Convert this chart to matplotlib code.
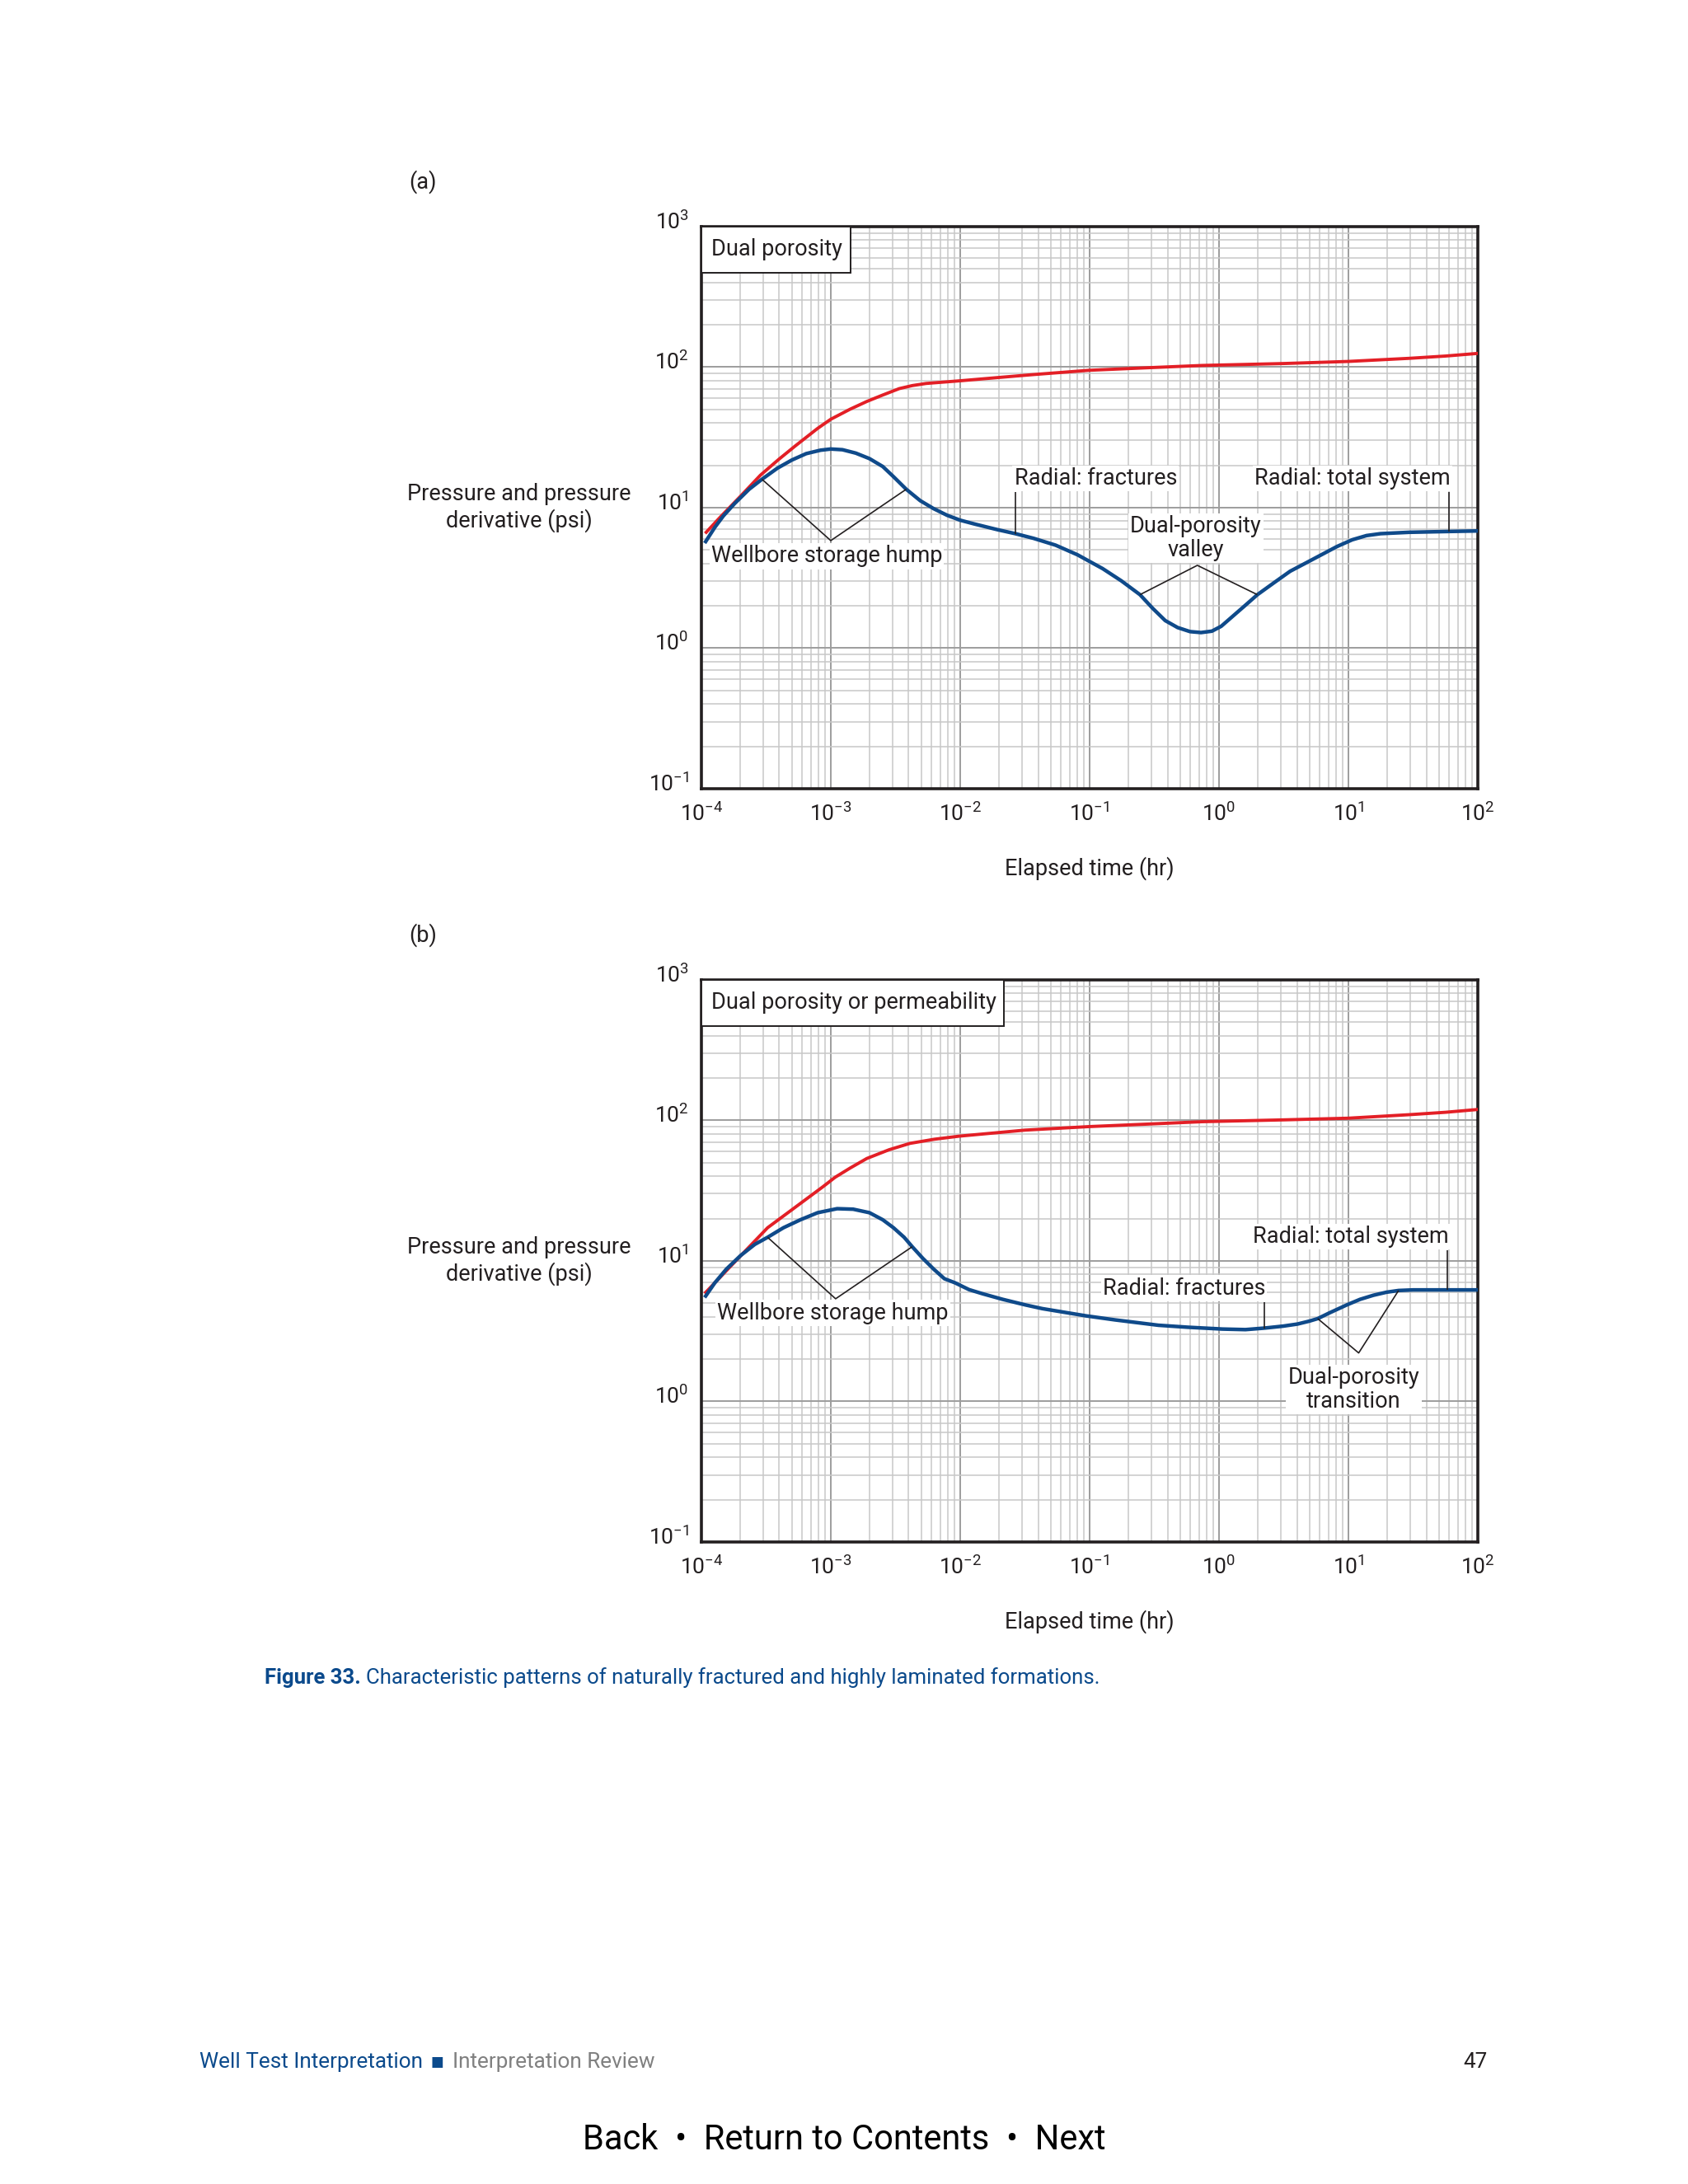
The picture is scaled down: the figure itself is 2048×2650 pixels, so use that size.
import numpy as np
import matplotlib
matplotlib.use("Agg")
import matplotlib.pyplot as plt
from matplotlib.ticker import LogLocator, NullFormatter
from matplotlib.patches import Rectangle
from matplotlib.transforms import ScaledTranslation

FONT = "Roboto"
plt.rcParams["font.family"] = [FONT, "DejaVu Sans"]
plt.rcParams["mathtext.fontset"] = "custom"
plt.rcParams["mathtext.rm"] = FONT
plt.rcParams["mathtext.it"] = FONT + ":italic"
plt.rcParams["mathtext.bf"] = FONT + ":bold"
plt.rcParams["mathtext.default"] = "regular"

# ---- data (elapsed time in hr, pressure in psi) ----
a_press_t = [1.09e-4, 1.41e-4, 2.0e-4, 2.86e-4, 3.98e-4, 5.33e-4, 7.92e-4, 1.0e-3,
             1.41e-3, 1.90e-3, 2.51e-3, 3.38e-3, 4.27e-3, 5.46e-3, 7.94e-3, 1.03e-2,
             2.0e-2, 3.64e-2, 9.95e-2, 0.316, 0.74, 3.16, 10, 29.9, 56.2, 100]
a_press_p = [6.67, 8.61, 12.0, 17.0, 22.1, 27.5, 36.6, 42.5,
             50.1, 56.9, 63.1, 70.2, 73.8, 76.4, 78.5, 80.0,
             84.3, 88.3, 94.8, 99.3, 102.6, 105.9, 109.6, 115.4, 119.7, 125]

a_deriv_t = [1.08e-4, 1.27e-4, 1.48e-4, 1.81e-4, 2.34e-4, 2.94e-4, 3.88e-4, 5.01e-4,
             6.46e-4, 8.34e-4, 1.0e-3, 1.23e-3, 1.56e-3, 1.99e-3, 2.52e-3, 3.05e-3,
             3.83e-3, 4.91e-3, 6.24e-3, 7.93e-3, 1.0e-2, 1.29e-2, 1.93e-2, 2.67e-2,
             3.69e-2, 5.46e-2, 8.07e-2, 0.126, 0.176, 0.245, 0.307, 0.384,
             0.479, 0.598, 0.726, 0.881, 1.04, 1.30, 1.63, 1.98,
             2.69, 3.54, 4.68, 6.17, 8.15, 10.7, 13.8, 17.7, 29.5, 60.0, 100]
a_deriv_p = [5.73, 7.23, 8.73, 10.7, 13.5, 15.9, 19.1, 21.8,
             24.2, 25.6, 26.1, 25.8, 24.4, 22.3, 19.6, 16.6,
             13.5, 11.2, 9.82, 8.81, 8.13, 7.64, 6.97, 6.52,
             6.04, 5.40, 4.61, 3.68, 3.01, 2.40, 1.92, 1.57,
             1.40, 1.31, 1.29, 1.32, 1.43, 1.71, 2.05, 2.40,
             2.94, 3.52, 4.03, 4.61, 5.28, 5.90, 6.32, 6.52, 6.67, 6.76, 6.82]

b_press_t = [1.08e-4, 1.78e-4, 3.25e-4, 5.01e-4, 8.71e-4, 1.08e-3, 1.41e-3, 1.90e-3,
             2.82e-3, 4.09e-3, 6.31e-3, 9.84e-3, 3.16e-2, 9.95e-2, 0.316, 0.74,
             3.16, 10, 29.9, 56.2, 100]
b_press_p = [5.96, 9.66, 17.2, 23.1, 33.7, 39.3, 45.7, 53.5,
             61.7, 68.5, 73.3, 77.1, 85.1, 90.2, 94.4, 97.7,
             100.7, 103.5, 109.7, 114, 119.4]

b_deriv_t = [1.08e-4, 1.27e-4, 1.56e-4, 2.01e-4, 2.59e-4, 3.25e-4, 4.31e-4, 5.83e-4,
             7.92e-4, 1.12e-3, 1.49e-3, 1.99e-3, 2.52e-3, 3.05e-3, 3.69e-3, 4.26e-3,
             5.15e-3, 6.24e-3, 7.55e-3, 9.14e-3, 1.17e-2, 1.5e-2, 2.13e-2, 3.18e-2,
             4.31e-2, 6.52e-2, 9.38e-2, 0.157, 0.340, 0.570, 1.06, 1.60,
             2.23, 3.13, 4.04, 4.97, 5.79, 7.13, 9.73, 12.3,
             15.6, 19.7, 24.4, 31.6, 58.1, 100]
b_deriv_p = [5.62, 6.97, 8.73, 10.9, 13.1, 14.7, 17.2, 19.6,
             22.0, 23.5, 23.3, 22.0, 19.6, 17.2, 14.7, 12.6,
             10.4, 8.73, 7.46, 6.97, 6.24, 5.82, 5.32, 4.86,
             4.57, 4.29, 4.06, 3.80, 3.48, 3.37, 3.27, 3.24,
             3.32, 3.43, 3.55, 3.72, 3.88, 4.26, 4.86, 5.32,
             5.69, 5.98, 6.15, 6.21, 6.21, 6.21]

x_ticks = [1e-4, 1e-3, 1e-2, 1e-1, 1e0, 1e1, 1e2]
x_labels = [r"$10^{-4}$", r"$10^{-3}$", r"$10^{-2}$", r"$10^{-1}$",
            r"$10^{0}$", r"$10^{1}$", r"$10^{2}$"]
y_ticks = [1e-1, 1e0, 1e1, 1e2, 1e3]
y_labels = [r"$10^{-1}$", r"$10^{0}$", r"$10^{1}$", r"$10^{2}$", r"$10^{3}$"]

RED = "#e31f26"
BLUE = "#0f4a8a"
INK = "#231f20"
CAP_BLUE = "#0b4a8c"
FS = 19.5

fig = plt.figure(figsize=(20.48, 26.5), dpi=100)


def setup(ax, box_text, box_w):
    ax.set_xscale("log")
    ax.set_yscale("log")
    ax.set_xlim(1e-4, 1e2)
    ax.set_ylim(1e-1, 1e3)
    ax.set_xticks(x_ticks, x_labels)
    ax.set_yticks(y_ticks, y_labels)
    ax.xaxis.set_minor_locator(LogLocator(base=10, subs=np.arange(2, 10), numticks=30))
    ax.yaxis.set_minor_locator(LogLocator(base=10, subs=np.arange(2, 10), numticks=30))
    ax.xaxis.set_minor_formatter(NullFormatter())
    ax.yaxis.set_minor_formatter(NullFormatter())
    ax.grid(which="major", color="#9d9d9d", lw=1.4)
    ax.grid(which="minor", color="#c8c8c8", lw=1.1)
    ax.set_axisbelow(True)
    ax.tick_params(which="both", length=0, labelsize=19, colors=INK)
    ax.tick_params(axis="x", pad=12)
    ax.tick_params(axis="y", pad=11)
    for lab in ax.get_yticklabels():
        lab.set_transform(lab.get_transform() + ScaledTranslation(0, 6 / 72, fig.dpi_scale_trans))
    for s in ax.spines.values():
        s.set_linewidth(2.6)
        s.set_color(INK)
    ax.add_patch(Rectangle((0, 1 - 0.082), box_w, 0.082, transform=ax.transAxes,
                           fc="white", ec=INK, lw=1.4, zorder=4, clip_on=False))
    ax.text(0.013, 1 - 0.041, box_text, transform=ax.transAxes, fontsize=FS,
            color=INK, va="center", ha="left", zorder=5)


def label(ax, x, y, s, ha="left"):
    ax.text(x, y, s, fontsize=FS, color=INK, ha=ha, va="center", zorder=5,
            linespacing=1.1, multialignment="center",
            bbox=dict(fc="white", ec="none", pad=1.5))


def leader(ax, xs, ys):
    ax.plot(xs, ys, color=INK, lw=1.2, zorder=3.5, solid_capstyle="butt")


# ---------------- panel (a) ----------------
ax1 = fig.add_axes([0.4155, 0.6389, 0.4600, 0.2574])
setup(ax1, "Dual porosity", 0.192)
ax1.plot(a_press_t, a_press_p, color=RED, lw=2.8, zorder=3)
ax1.plot(a_deriv_t, a_deriv_p, color=BLUE, lw=3.2, zorder=3.2)
leader(ax1, [2.94e-4, 1.0e-3, 3.83e-3], [15.9, 5.82, 13.5])
leader(ax1, [0.245, 0.68, 1.98], [2.4, 3.88, 2.4])
leader(ax1, [2.67e-2, 2.67e-2], [12.9, 6.52])
leader(ax1, [60.0, 60.0], [12.9, 6.76])
label(ax1, 1.19e-4, 4.5, "Wellbore storage hump")
label(ax1, 2.62e-2, 16.1, "Radial: fractures")
label(ax1, 61.5, 16.1, "Radial: total system", ha="right")
label(ax1, 0.66, 6.07, "Dual-porosity\nvalley", ha="center")

# ---------------- panel (b) ----------------
ax2 = fig.add_axes([0.4155, 0.2940, 0.4600, 0.2574])
setup(ax2, "Dual porosity or permeability", 0.39)
ax2.plot(b_press_t, b_press_p, color=RED, lw=2.8, zorder=3)
ax2.plot(b_deriv_t, b_deriv_p, color=BLUE, lw=3.2, zorder=3.2)
leader(ax2, [3.25e-4, 1.09e-3, 4.26e-3], [14.7, 5.37, 12.6])
leader(ax2, [5.79, 12.0, 24.4], [3.88, 2.21, 6.15])
leader(ax2, [58.1, 58.1], [11.9, 6.21])
leader(ax2, [2.23, 2.23], [5.05, 3.32])
label(ax2, 1.32e-4, 4.26, "Wellbore storage hump")
label(ax2, 59.5, 14.9, "Radial: total system", ha="right")
label(ax2, 2.28, 6.38, "Radial: fractures", ha="right")
label(ax2, 11.0, 1.216, "Dual-porosity\ntransition", ha="center")

# ---------------- page texts ----------------
W, H = 2048, 2650


def fx(px):
    return px / W


def fy(py):
    return 1 - py / H


for py, tag in [(221, "(a)"), (1135, "(b)")]:
    fig.text(fx(513), fy(py), tag, fontsize=FS, color=INK, ha="center", va="center")
for py in (616, 1530):
    fig.text(fx(630), fy(py), "Pressure and pressure\nderivative (psi)", fontsize=FS,
             color=INK, ha="center", va="center", multialignment="center", linespacing=1.15)
for py in (1054, 1968):
    fig.text(fx(1322), fy(py), "Elapsed time (hr)", fontsize=FS, color=INK,
             ha="center", va="center")

r = fig.canvas.get_renderer()
t = fig.text(fx(321), fy(2036), "Figure 33.", fontsize=18.5, fontweight="bold",
             color=CAP_BLUE, ha="left", va="center")
bb = t.get_window_extent(r)
fig.text(fx(bb.x1 + 6), fy(2036),
         "Characteristic patterns of naturally fractured and highly laminated formations.",
         fontsize=18.5, color=CAP_BLUE, ha="left", va="center")

t = fig.text(fx(242), fy(2502), "Well Test Interpretation", fontsize=18.8,
             color=CAP_BLUE, ha="left", va="center")
bb = t.get_window_extent(r)
t = fig.text(fx(bb.x1 + 10), fy(2502), "\u25a0", fontsize=12, color=CAP_BLUE,
             ha="left", va="center", family=["DejaVu Sans"])
bb = t.get_window_extent(r)
fig.text(fx(bb.x1 + 10), fy(2502), "Interpretation Review", fontsize=18.8,
         color="#808080", ha="left", va="center")
fig.text(fx(1805), fy(2502), "47", fontsize=18.8, color=INK, ha="right", va="center")

fig.text(0.5, fy(2597), "Back  \u2022  Return to Contents  \u2022  Next", fontsize=30,
         color="black", ha="center", va="center")

fig.savefig("out.png", dpi=100, facecolor="white")
